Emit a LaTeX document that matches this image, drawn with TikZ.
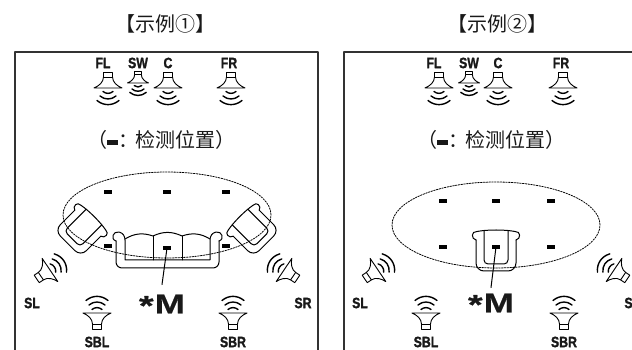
\documentclass[tikz,border=0pt]{standalone}
\usepackage{fontspec}
\setmainfont{Liberation Sans}
\newfontfamily\cjk[RawFeature=+halt]{Noto Sans CJK SC}
\newfontfamily\narrowbf[FakeStretch=0.82,FakeBold=1.3]{Liberation Sans Bold}
\newfontfamily\widebf[FakeStretch=1.35,FakeBold=0.6]{Liberation Sans Bold}
\usepackage{xcolor}
\usetikzlibrary{positioning}
\definecolor{ink}{RGB}{25,25,25}
\definecolor{edge}{RGB}{50,50,50}
\tikzset{
  wall/.style={line width=1.8pt,draw=edge},
  spkline/.style={line width=0.9pt},
  wave/.style={line width=1.4pt},
  seat/.style={line width=1pt},
  zone/.style={line width=0.8pt,dash pattern=on 1.6pt off 1.2pt},
  spot/.style={rectangle,fill=black,minimum width=8pt,minimum height=4pt,inner sep=0pt},
  chlabel/.style={font=\narrowbf\fontsize{15}{15}\selectfont,text=ink,inner sep=0pt},
  heading/.style={font=\cjk\fontsize{20}{20}\selectfont,text=ink,inner sep=0pt},
  mlabel/.style={font=\widebf,text=ink,inner sep=0pt},
  % loudspeaker, mouth at the origin, sound going to -y
  pics/speaker/.style={code={
    \draw[spkline] (-4.5,16) rectangle (4.5,11);
    \draw[spkline] (-4.5,11) .. controls (-4.5,6) and (-9,2) .. (-14,0) -- (14,0)
      .. controls (9,2) and (4.5,6) .. (4.5,11);
    \draw[wave] (-5,-3.5) to[bend right=40] (5,-3.5);
    \draw[wave] (-8,-8) to[bend right=40] (8,-8);
    \draw[wave] (-11,-12.5) to[bend right=40] (11,-12.5);
  }},
  % armchair seen from above, back rail at +y
  pics/chair/.style={code={
    \draw[seat,rounded corners=8pt] (-20,12) -- (-20,-19) -- (20,-19) -- (20,12);
    \draw[seat] (-20,12) .. controls (-25,13) and (-25,21) .. (-19,20.5)
      .. controls (-9,22.5) and (9,22.5) .. (19,20.5)
      .. controls (25,21) and (25,13) .. (20,12);
    \draw[seat,rounded corners=4pt] (-12,21.6) -- (-12,-12) -- (12,-12) -- (12,21.6);
  }},
}
\newcommand{\keymark}{\rule[3pt]{11pt}{4.5pt}}
\newcommand{\mtext}{{\fontsize{28}{28}\selectfont\raisebox{-2pt}{*}}\kern1pt{\fontsize{27}{27}\selectfont M}}

\begin{document}
\begin{tikzpicture}[x=1pt,y=1pt,line join=round,line cap=round]
\useasboundingbox (0,0) rectangle (632,350);
\clip (0,0) rectangle (632,350);

% ===== example 1: sofa and two armchairs =====
\node[heading] (t1) at (165,326) {【示例①】};
\draw[wall] (15,-5) -- (15,298) -- (318,298) -- (318,-5);

% --- front speakers ---
\node[chlabel] (FL1) at (103,287) {FL};
\node[chlabel] (SW1) at (138,287) {SW};
\node[chlabel] (C1)  at (168,287) {C};
\node[chlabel] (FR1) at (229,287) {FR};
\pic at (108,262) {speaker};
\pic[scale=0.75] at (138,267) {speaker};
\pic at (168,262) {speaker};
\pic at (231,262) {speaker};

\node[heading] (key1) at (161,210) {（\keymark：\kern7pt 检测位置）};

% --- seating ---
\pic[rotate=-45,scale=0.92] at (80,119) {chair};
\pic[rotate=45,scale=0.92] at (254,119) {chair};
\draw[seat,rounded corners=6pt] (116,109) -- (116,82) -- (219,82) -- (219,109);
\draw[seat] (116,109) .. controls (110,111) and (113,119) .. (119,118)
  .. controls (123,117) and (125,114) .. (125,110) -- (125,90) -- (210,90) -- (210,110)
  .. controls (210,114) and (212,117) .. (216,118)
  .. controls (222,119) and (225,111) .. (219,109);
\draw[seat] (125,111) to[bend left=25] (153,114) to[bend left=25] (182,114) to[bend left=25] (210,111);
\draw[seat] (153,114) -- (153,90) (182,114) -- (182,90);

% --- measuring area ---
\draw[zone] (167,135) ellipse [x radius=104,y radius=43];
\node[spot] (p11) at (108,158) {};
\node[spot] (p12) at (167,158) {};
\node[spot] (p13) at (226,158) {};
\node[spot] (p14) at (108,104) {};
\node[spot] (p15) at (226,104) {};
\node[spot] (m1)  at (167,102) {};
\node[mlabel] (ml1) at (162,45) {\mtext};
\draw[line width=1pt] (m1.center) -- ([yshift=10pt]ml1.north);

% --- surround speakers ---
\pic[rotate=124] at (50,80) {speaker};
\pic[rotate=-124] at (284,80) {speaker};
\pic[rotate=180] at (97,37) {speaker};
\pic[rotate=180] at (233,37) {speaker};
\node[chlabel] (SL1)  at (32,47) {SL};
\node[chlabel] (SR1)  at (303,47) {SR};
\node[chlabel] (SBL1) at (97,8) {SBL};
\node[chlabel] (SBR1) at (233,8) {SBR};

% ===== example 2: single armchair =====
\begin{scope}[xshift=330pt]
\node[heading] (t2) at (167,326) {【示例②】};
\draw[wall] (14,-5) -- (14,298) -- (320,298);

% --- front speakers ---
\node[chlabel] (FL2) at (104,287) {FL};
\node[chlabel] (SW2) at (139,287) {SW};
\node[chlabel] (C2)  at (168,287) {C};
\node[chlabel] (FR2) at (231,287) {FR};
\pic at (109,262) {speaker};
\pic[scale=0.75] at (139,267) {speaker};
\pic at (168,262) {speaker};
\pic at (233,262) {speaker};

\node[heading] (key2) at (161,210) {（\keymark：\kern7pt 检测位置）};

% --- seating ---
\pic at (166,98) {chair};

% --- measuring area ---
\draw[zone] (166,125) ellipse [x radius=104,y radius=43];
\node[spot] (p21) at (113,149) {};
\node[spot] (p22) at (166,149) {};
\node[spot] (p23) at (221,149) {};
\node[spot] (p24) at (113,103) {};
\node[spot] (p25) at (221,103) {};
\node[spot] (m2)  at (166,103) {};
\node[mlabel] (ml2) at (161,46) {\mtext};
\draw[line width=1pt] (m2.center) -- ([yshift=6pt]ml2.north);

% --- surround speakers ---
\pic[rotate=124] at (48,80) {speaker};
\pic[rotate=-124] at (284,80) {speaker};
\pic[rotate=180] at (96,37) {speaker};
\pic[rotate=180] at (234,37) {speaker};
\node[chlabel] (SL2)  at (30,47) {SL};
\node[chlabel] (SR2)  at (303,47) {SR};
\node[chlabel] (SBL2) at (96,8) {SBL};
\node[chlabel] (SBR2) at (234,8) {SBR};
\end{scope}
\end{tikzpicture}
\end{document}
